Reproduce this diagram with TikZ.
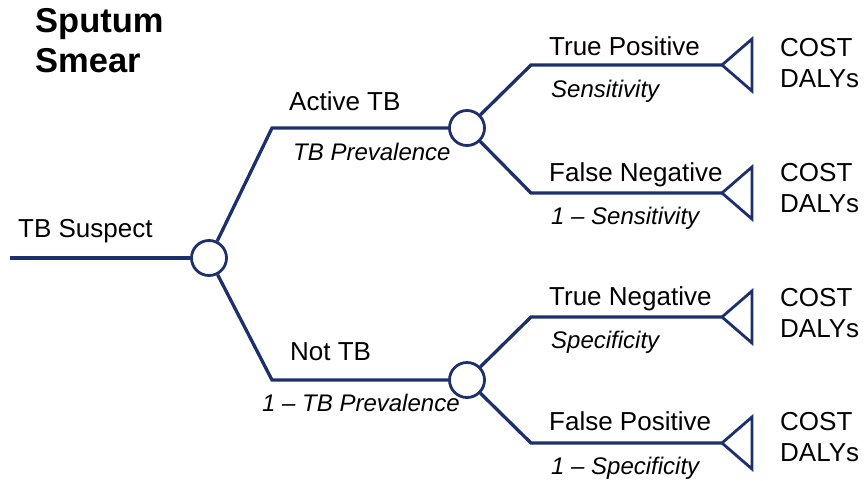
\documentclass[tikz,border=0pt]{standalone}
\usepackage{fontspec}
\setmainfont{Liberation Sans}
\definecolor{navy}{RGB}{28,48,108}
\begin{document}
\begin{tikzpicture}[x=1pt,y=-1pt,
  br/.style={draw=navy,line width=3.3pt,line join=miter},
  chance/.style={circle,draw=navy,line width=2.8pt,fill=white,minimum size=35pt,inner sep=0pt},
  term/.style={draw=navy,line width=2.8pt,line join=miter,fill=white},
  lbl/.style={anchor=base west,inner sep=0pt,font=\fontsize{26}{30}\selectfont},
  prob/.style={anchor=base west,inner sep=0pt,font=\fontsize{24}{28}\selectfont\itshape},
  ttl/.style={anchor=base west,inner sep=0pt,align=left,font=\fontsize{34.5}{40}\selectfont\bfseries}]
\useasboundingbox (0,0) rectangle (865,480);
% title
\node[ttl] (title) at (35,32) {Sputum};
\node[ttl] (title2) at (35,72) {Smear};
% nodes
\coordinate (start) at (10,258);
\node[chance] (c1) at (209,258) {};
\coordinate (ea) at (272,128);
\coordinate (eb) at (272,380);
\node[chance] (c2) at (467,128) {};
\node[chance] (c3) at (467,380) {};
\coordinate (e1) at (531,65);
\coordinate (e2) at (531,193);
\coordinate (e3) at (531,317);
\coordinate (e4) at (531,443);
\coordinate (t1) at (722,65);
\coordinate (t2) at (722,193);
\coordinate (t3) at (722,317);
\coordinate (t4) at (722,443);
% branches
\draw[br] (start) -- (c1);
\draw[br] (c1) -- (ea) -- (c2);
\draw[br] (c1) -- (eb) -- (c3);
\draw[br] (c2) -- (e1) -- (t1);
\draw[br] (c2) -- (e2) -- (t2);
\draw[br] (c3) -- (e3) -- (t3);
\draw[br] (c3) -- (e4) -- (t4);
% terminal triangles
\foreach \t in {t1,t2,t3,t4}{
  \draw[term] (\t) -- ++(30,-26) -- ++(0,52) -- cycle;
}
% labels
\node[lbl] (suspect) at (18,237) {TB Suspect};
\node[lbl] (active) at (289,110) {Active TB};
\node[prob] (prev) at (293,160) {TB Prevalence};
\node[lbl] (nottb) at (290,360) {Not TB};
\node[prob] (nprev) at (262,411) {1 – TB Prevalence};
\node[lbl] (tp) at (549,55) {True Positive};
\node[prob] (sens) at (551,97) {Sensitivity};
\node[lbl] (fn) at (549,181) {False Negative};
\node[prob] (nsens) at (551,224) {1 – Sensitivity};
\node[lbl] (tn) at (549,305) {True Negative};
\node[prob] (spec) at (551,348) {Specificity};
\node[lbl] (fp) at (549,430) {False Positive};
\node[prob] (nspec) at (551,474) {1 – Specificity};
% outcomes
\node[lbl] (cost1) at (780,56) {COST};
\node[lbl] (daly1) at (780,87) {DALYs};
\node[lbl] (cost2) at (780,181) {COST};
\node[lbl] (daly2) at (780,212) {DALYs};
\node[lbl] (cost3) at (780,306) {COST};
\node[lbl] (daly3) at (780,337) {DALYs};
\node[lbl] (cost4) at (780,430) {COST};
\node[lbl] (daly4) at (780,461) {DALYs};
\end{tikzpicture}
\end{document}
